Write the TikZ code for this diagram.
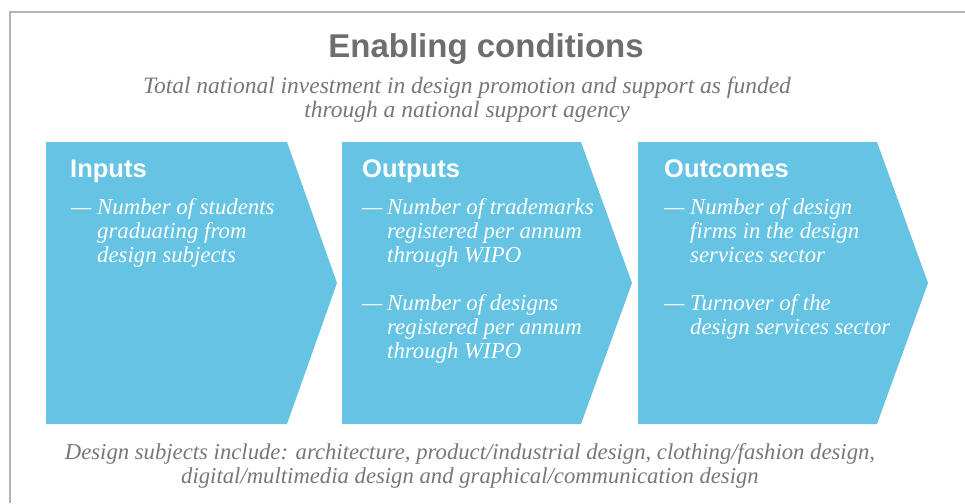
\documentclass[tikz,border=0pt]{standalone}
\usepackage{fontspec}
\setmainfont{Liberation Serif}
\setsansfont{Liberation Sans}
\definecolor{chev}{HTML}{65C3E3}
\definecolor{framegray}{HTML}{B3B3B3}
\definecolor{titlegray}{HTML}{6E6E6E}
\definecolor{textgray}{HTML}{777777}
\tikzset{
  chevron/.style={fill=chev},
  titletext/.style={anchor=base, inner sep=0pt, text=titlegray, font=\sffamily\bfseries\fontsize{33}{36}\selectfont},
  subtext/.style={anchor=base, inner sep=0pt, align=center, text=textgray, font=\itshape\fontsize{23.5}{24}\selectfont},
  headtext/.style={anchor=base west, inner sep=0pt, text=white, font=\sffamily\bfseries\fontsize{25.5}{28}\selectfont},
  itemtext/.style={anchor=base west, inner sep=0pt, align=left, text=white, font=\itshape\fontsize{22.8}{24}\selectfont},
  dashtext/.style={anchor=base west, inner sep=0pt, text=white, font=\itshape\fontsize{22.8}{24}\selectfont},
  foottext/.style={anchor=base, inner sep=0pt, align=center, text=textgray, font=\itshape\fontsize{22.7}{23.5}\selectfont},
}
\begin{document}
\begin{tikzpicture}[x=1pt,y=-1pt]
\useasboundingbox (0,0) rectangle (965,503);
\draw[framegray, line width=2pt] (10,503) -- (10,12) -- (965,12);

\fill[chevron] (46,142) -- (287,142) -- (337,283) -- (287,424) -- (46,424) -- cycle;
\fill[chevron] (342,142) -- (581,142) -- (632,283) -- (581,424) -- (342,424) -- cycle;
\fill[chevron] (638,142) -- (877,142) -- (928,283) -- (877,424) -- (638,424) -- cycle;

\node[titletext] (title) at (486,58) {Enabling conditions};
\node[subtext] (sub) at (467,117) {Total national investment in design promotion and support as funded\\through a national support agency};

\node[headtext] (h1) at (70,177) {Inputs};
\node[dashtext] (d1) at (71,214) {—};
\node[itemtext] (t1) at (97,262) {Number of students\\graduating from\\design subjects};

\node[headtext] (h2) at (362,177) {Outputs};
\node[dashtext] (d2a) at (362,214) {—};
\node[itemtext] (t2a) at (387,262) {Number of trademarks\\registered per annum\\through WIPO};
\node[dashtext] (d2b) at (362,310) {—};
\node[itemtext] (t2b) at (387,358) {Number of designs\\registered per annum\\through WIPO};

\node[headtext] (h3) at (664,177) {Outcomes};
\node[dashtext] (d3a) at (664,214) {—};
\node[itemtext] (t3a) at (690,262) {Number of design\\firms in the design\\services sector};
\node[dashtext] (d3b) at (664,310) {—};
\node[itemtext] (t3b) at (690,334) {Turnover of the\\design services sector};

\node[foottext] (foot) at (470,483) {Design subjects include: architecture, product/industrial design, clothing/fashion design,\\digital/multimedia design and graphical/communication design};
\end{tikzpicture}
\end{document}
